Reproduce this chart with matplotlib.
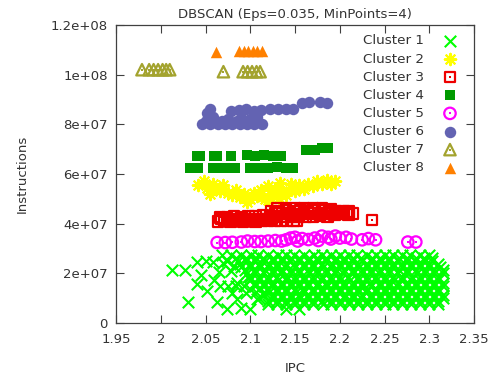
import numpy as np
import matplotlib
matplotlib.use("Agg")
import matplotlib.pyplot as plt

plt.rcParams["font.family"] = "DejaVu Sans"
plt.rcParams["font.size"] = 9.5
plt.rcParams["text.color"] = "#333333"
plt.rcParams["axes.labelcolor"] = "#333333"
plt.rcParams["xtick.color"] = "#404040"
plt.rcParams["ytick.color"] = "#404040"
plt.rcParams["xtick.labelcolor"] = "#333333"
plt.rcParams["ytick.labelcolor"] = "#333333"

# instructions are kept in units of 1e7

# cluster 1: dense band, stored row by row
c1_row_instr = [2.75, 2.62, 2.5, 2.37, 2.25, 2.12, 2.0, 1.87, 1.75, 1.62,
                1.5, 1.37, 1.25, 1.12, 1.0, 0.87, 0.75]
c1_row_ipc = [
    [2.068, 2.079, 2.09, 2.101, 2.109, 2.12, 2.131, 2.14, 2.149, 2.16, 2.171, 2.18,
     2.19, 2.2, 2.21, 2.219, 2.23, 2.241, 2.25, 2.26, 2.27, 2.279, 2.29, 2.3],
    [2.084, 2.095, 2.106, 2.114, 2.125, 2.136, 2.145, 2.155, 2.166, 2.175, 2.185,
     2.196, 2.205, 2.215, 2.224, 2.236, 2.245, 2.255, 2.266, 2.275, 2.285, 2.294, 2.303],
    [2.074, 2.086, 2.095, 2.105, 2.116, 2.125, 2.135, 2.144, 2.155, 2.165, 2.176, 2.185,
     2.195, 2.205, 2.214, 2.225, 2.235, 2.246, 2.255, 2.265, 2.275, 2.284, 2.295, 2.303],
    [2.089, 2.1, 2.11, 2.121, 2.13, 2.14, 2.149, 2.16, 2.17, 2.18, 2.191, 2.2,
     2.21, 2.22, 2.23, 2.24, 2.251, 2.26, 2.27, 2.28, 2.29, 2.3, 2.31],
    [2.09, 2.1, 2.111, 2.12, 2.13, 2.139, 2.15, 2.16, 2.17, 2.181, 2.19, 2.2,
     2.21, 2.221, 2.23, 2.24, 2.25, 2.259, 2.27, 2.28, 2.29, 2.3, 2.312],
    [2.094, 2.105, 2.116, 2.125, 2.135, 2.145, 2.154, 2.165, 2.175, 2.185, 2.196,
     2.205, 2.215, 2.225, 2.235, 2.245, 2.255, 2.266, 2.275, 2.285, 2.295, 2.305, 2.315],
    [2.096, 2.105, 2.115, 2.125, 2.134, 2.145, 2.155, 2.166, 2.175, 2.185, 2.195, 2.204,
     2.215, 2.225, 2.235, 2.244, 2.255, 2.265, 2.275, 2.286, 2.295, 2.305, 2.315],
    [2.1, 2.11, 2.12, 2.13, 2.141, 2.15, 2.16, 2.17, 2.18, 2.19, 2.2, 2.209,
     2.22, 2.23, 2.24, 2.25, 2.26, 2.27, 2.281, 2.29, 2.3, 2.31],
    [2.1, 2.11, 2.12, 2.131, 2.14, 2.15, 2.16, 2.17, 2.179, 2.19, 2.2, 2.211,
     2.22, 2.23, 2.24, 2.25, 2.261, 2.27, 2.28, 2.29, 2.3, 2.31],
    [2.085, 2.105, 2.115, 2.125, 2.135, 2.145, 2.155, 2.165, 2.176, 2.185, 2.195,
     2.205, 2.215, 2.225, 2.234, 2.245, 2.255, 2.265, 2.275, 2.285, 2.295, 2.305, 2.315],
    [2.066, 2.075, 2.084, 2.093, 2.105, 2.115, 2.124, 2.135, 2.145, 2.155, 2.165, 2.175,
     2.186, 2.195, 2.205, 2.215, 2.225, 2.235, 2.245, 2.255, 2.264, 2.275, 2.285, 2.295,
     2.305, 2.315],
    [2.1, 2.11, 2.12, 2.13, 2.14, 2.15, 2.159, 2.17, 2.18, 2.19, 2.2, 2.21,
     2.22, 2.23, 2.24, 2.25, 2.26, 2.27, 2.28, 2.29, 2.3, 2.31],
    [2.106, 2.115, 2.121, 2.13, 2.14, 2.151, 2.16, 2.17, 2.18, 2.19, 2.2, 2.21,
     2.22, 2.229, 2.24, 2.25, 2.26, 2.27, 2.28, 2.29, 2.3, 2.31],
    [2.115, 2.125, 2.135, 2.145, 2.155, 2.165, 2.175, 2.185, 2.195, 2.206, 2.215,
     2.225, 2.235, 2.245, 2.255, 2.265, 2.275, 2.285, 2.295, 2.305, 2.315],
    [2.11, 2.125, 2.135, 2.145, 2.156, 2.165, 2.175, 2.185, 2.195, 2.205, 2.215, 2.224,
     2.235, 2.245, 2.255, 2.265, 2.275, 2.285, 2.295, 2.305, 2.315],
    [2.12, 2.13, 2.14, 2.15, 2.16, 2.17, 2.18, 2.19, 2.2, 2.21, 2.22, 2.23,
     2.24, 2.25, 2.26, 2.27, 2.28, 2.29, 2.3, 2.31],
    [2.12, 2.13, 2.14, 2.15, 2.16, 2.17, 2.181, 2.19, 2.2, 2.21, 2.22, 2.23,
     2.24, 2.25, 2.26, 2.27, 2.28, 2.29, 2.3, 2.31],
]
# cluster 1: scattered points on the low-IPC side and along the bottom
c1_extra_ipc = [2.013, 2.027, 2.03, 2.04, 2.04, 2.045, 2.05, 2.052, 2.058, 2.063,
                2.065, 2.074, 2.078, 2.08, 2.09, 2.1, 2.085, 2.14, 2.155, 2.06,
                2.07, 2.095, 2.082, 2.098, 2.107]
c1_extra_instr = [2.13, 2.15, 0.85, 2.45, 1.55, 1.95, 2.5, 1.3, 2.45, 0.85,
                  2.05, 0.55, 2.1, 1.2, 0.6, 0.58, 0.95, 0.55, 0.55, 1.75,
                  2.4, 1.2, 2.3, 1.85, 0.95]

c2_ipc = [2.042, 2.048, 2.052, 2.058, 2.061, 2.066, 2.07, 2.075, 2.08, 2.084,
          2.089, 2.093, 2.096, 2.1, 2.104, 2.108, 2.112, 2.116, 2.12, 2.124,
          2.128, 2.133, 2.136, 2.14, 2.145, 2.15, 2.155, 2.16, 2.165, 2.17,
          2.175, 2.18, 2.186, 2.19, 2.195, 2.12, 2.055, 2.145, 2.11, 2.132]
c2_instr = [5.55, 5.7, 5.45, 5.6, 5.44, 5.3, 5.55, 5.25, 5.15, 5.35,
            5.07, 5.2, 4.87, 5.0, 5.25, 5.1, 5.35, 5.0, 4.95, 5.2,
            5.4, 5.64, 5.3, 5.15, 5.45, 5.3, 5.55, 5.4, 5.6, 5.5,
            5.7, 5.6, 5.75, 5.6, 5.72, 5.5, 5.2, 5.6, 5.15, 5.05]

c3_ipc = [2.064, 2.071, 2.078, 2.085, 2.092, 2.099, 2.106, 2.113, 2.12, 2.127,
          2.134, 2.141, 2.148, 2.152,
          2.068, 2.075, 2.082, 2.089, 2.096, 2.103, 2.11, 2.117, 2.124,
          2.066, 2.074, 2.082, 2.09, 2.098, 2.106, 2.114, 2.122, 2.13, 2.138,
          2.146, 2.154, 2.162, 2.17, 2.178, 2.186, 2.194, 2.202, 2.21, 2.214,
          2.128, 2.136, 2.144, 2.152, 2.16, 2.168, 2.176, 2.184, 2.192, 2.2, 2.208,
          2.124, 2.132, 2.14, 2.148, 2.156, 2.164, 2.172, 2.18, 2.188, 2.196,
          2.204, 2.21,
          2.13, 2.14, 2.15, 2.16, 2.17, 2.18, 2.19, 2.236]
c3_instr = [4.08, 4.1, 4.08, 4.1, 4.08, 4.1, 4.08, 4.1, 4.1, 4.12,
            4.1, 4.12, 4.1, 4.12,
            4.18, 4.16, 4.18, 4.16, 4.18, 4.16, 4.18, 4.18, 4.2,
            4.25, 4.25, 4.28, 4.25, 4.28, 4.3, 4.32, 4.3, 4.3, 4.28,
            4.3, 4.28, 4.3, 4.3, 4.32, 4.3, 4.35, 4.4, 4.38, 4.42,
            4.4, 4.4, 4.4, 4.38, 4.4, 4.42, 4.4, 4.4, 4.42, 4.4, 4.45,
            4.48, 4.5, 4.52, 4.5, 4.55, 4.5, 4.52, 4.55, 4.5, 4.5,
            4.48, 4.5,
            4.62, 4.6, 4.62, 4.6, 4.62, 4.6, 4.58, 4.15]

c4_ipc = [2.04, 2.044, 2.059, 2.063, 2.079, 2.096, 2.105, 2.115, 2.125, 2.134,
          2.033, 2.042, 2.058, 2.068, 2.078, 2.083, 2.1, 2.11, 2.12, 2.13, 2.14, 2.148,
          2.162, 2.172, 2.18, 2.187]
c4_instr = [6.72, 6.72, 6.72, 6.72, 6.72, 6.75, 6.72, 6.75, 6.72, 6.72,
            6.26, 6.26, 6.26, 6.26, 6.26, 6.26, 6.26, 6.26, 6.26, 6.28, 6.26, 6.26,
            6.95, 6.98, 7.05, 7.05]

c5_ipc = [2.063, 2.072, 2.08, 2.09, 2.097, 2.105, 2.112, 2.12, 2.128, 2.135,
          2.14, 2.145, 2.15, 2.158, 2.165, 2.172, 2.18, 2.187, 2.195, 2.2,
          2.207, 2.213, 2.225, 2.232, 2.24, 2.276, 2.285, 2.153, 2.176, 2.19]
c5_instr = [3.24, 3.24, 3.25, 3.26, 3.3, 3.28, 3.28, 3.3, 3.32, 3.3,
            3.35, 3.42, 3.45, 3.4, 3.36, 3.42, 3.5, 3.45, 3.5, 3.42,
            3.45, 3.38, 3.35, 3.4, 3.35, 3.26, 3.26, 3.3, 3.32, 3.38]

c6_ipc = [2.046, 2.055, 2.064, 2.072, 2.08, 2.088, 2.096, 2.104, 2.113,
          2.051, 2.06, 2.068, 2.077, 2.085, 2.093, 2.101, 2.108,
          2.052, 2.058, 2.075, 2.09, 2.1, 2.108,
          2.055, 2.079, 2.087, 2.095, 2.104, 2.112, 2.122, 2.131, 2.14, 2.148,
          2.158, 2.166, 2.178, 2.186]
c6_instr = [8.02, 8.0, 8.02, 8.0, 8.02, 8.0, 8.02, 8.0, 8.0,
            8.12, 8.1, 8.15, 8.1, 8.12, 8.1, 8.15, 8.12,
            8.45, 8.3, 8.22, 8.25, 8.22, 8.3,
            8.62, 8.55, 8.58, 8.6, 8.55, 8.58, 8.6, 8.6, 8.62, 8.62,
            8.85, 8.88, 8.88, 8.85]

c7_ipc = [1.979, 1.987, 1.992, 1.997, 2.002, 2.006, 2.01,
          2.07, 2.092, 2.097, 2.102, 2.107, 2.111]
c7_instr = [10.2, 10.2, 10.2, 10.2, 10.2, 10.2, 10.2,
            10.12, 10.12, 10.12, 10.12, 10.12, 10.12]

c8_ipc = [2.062, 2.087, 2.093, 2.098, 2.103, 2.108, 2.113]
c8_instr = [10.93, 10.95, 10.95, 10.95, 10.95, 10.95, 10.95]

labels = ["Cluster 1", "Cluster 2", "Cluster 3", "Cluster 4",
          "Cluster 5", "Cluster 6", "Cluster 7", "Cluster 8"]
x_ticks = [1.95, 2.0, 2.05, 2.1, 2.15, 2.2, 2.25, 2.3, 2.35]
x_tick_labels = ["1.95", "2", "2.05", "2.1", "2.15", "2.2", "2.25", "2.3", "2.35"]
y_ticks = [0, 2e7, 4e7, 6e7, 8e7, 1e8, 1.2e8]
y_tick_labels = ["0", "2e+07", "4e+07", "6e+07", "8e+07", "1e+08", "1.2e+08"]

c1_ipc = [x for row in c1_row_ipc for x in row] + c1_extra_ipc
c1_instr = [y for y, row in zip(c1_row_instr, c1_row_ipc) for _ in row] + c1_extra_instr


def scale(v):
    return np.array(v) * 1e7


fig = plt.figure(figsize=(4.91, 3.79), dpi=100)
ax = fig.add_axes([0.2363, 0.1478, 0.7291, 0.7862])

ms = 68
h1 = ax.scatter(c1_ipc, scale(c1_instr), marker="x", s=ms, c="#00ff00", linewidths=1.5)
h2 = ax.scatter(c2_ipc, scale(c2_instr), marker=(8, 2, 0), s=ms, c="#ffff00", linewidths=1.5)
h3 = ax.scatter(c3_ipc, scale(c3_instr), marker="s", s=58, facecolors="none",
                edgecolors="#ee0000", linewidths=1.6)
d3 = ax.scatter(c3_ipc, scale(c3_instr), marker="s", s=2, c="#ee0000", linewidths=0)
h4 = ax.scatter(c4_ipc, scale(c4_instr), marker="s", s=58, c="#009a00", linewidths=0)
h5 = ax.scatter(c5_ipc, scale(c5_instr), marker="o", s=ms, facecolors="none",
                edgecolors="#ff00ff", linewidths=1.6)
d5 = ax.scatter(c5_ipc, scale(c5_instr), marker="s", s=2, c="#ff00ff", linewidths=0)
h6 = ax.scatter(c6_ipc, scale(c6_instr), marker="o", s=ms, c="#6363b2", linewidths=0)
h7 = ax.scatter(c7_ipc, scale(c7_instr), marker="^", s=ms, facecolors="none",
                edgecolors="#a3a32e", linewidths=1.6)
d7 = ax.scatter(c7_ipc, scale(c7_instr), marker="s", s=1.5, c="#a3a32e", linewidths=0)
h8 = ax.scatter(c8_ipc, scale(c8_instr), marker="^", s=ms, c="#ff8000", linewidths=0)

ax.set_xlim(1.95, 2.35)
ax.set_ylim(0, 1.2e8)
ax.set_xticks(x_ticks, x_tick_labels)
ax.set_yticks(y_ticks, y_tick_labels)
ax.tick_params(axis="both", direction="in", length=6, width=0.8, top=True, right=True)
ax.tick_params(axis="x", pad=7)
ax.tick_params(axis="y", pad=6)
for s in ax.spines.values():
    s.set_color("#404040")
    s.set_linewidth(0.9)

ax.set_title("DBSCAN (Eps=0.035, MinPoints=4)", fontsize=9.5, pad=5)
ax.set_xlabel("IPC", labelpad=12)
ax.set_ylabel("Instructions", labelpad=16)

handles = [h1, h2, (h3, d3), h4, (h5, d5), h6, (h7, d7), h8]
ax.legend(handles, labels, loc="upper right", bbox_to_anchor=(0.978, 1.0),
          frameon=False, markerfirst=False, fontsize=9.7, labelspacing=0.38,
          handlelength=1.0, handletextpad=1.4, borderaxespad=0.3,
          scatterpoints=1)

fig.savefig("out.png", dpi=100)
